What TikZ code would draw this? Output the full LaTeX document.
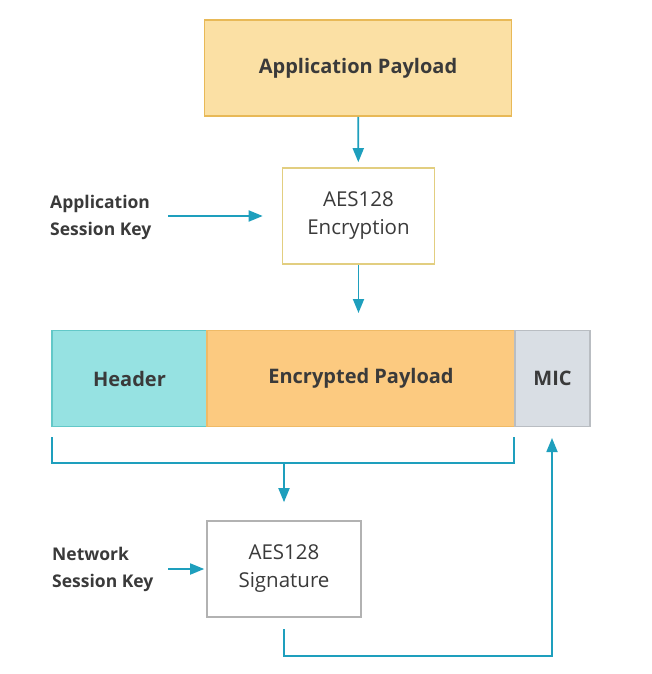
\documentclass[tikz,border=0pt]{standalone}
\usepackage{fontspec}
\setmainfont{Open Sans}
\usetikzlibrary{arrows.meta, positioning}

\definecolor{flowteal}{HTML}{1E9FBD}
\definecolor{textgray}{HTML}{3A3A3A}
\definecolor{appfill}{HTML}{FBE0A4}
\definecolor{appline}{HTML}{E8B957}
\definecolor{encline}{HTML}{E2CE80}
\definecolor{hdrfill}{HTML}{96E2E2}
\definecolor{hdrline}{HTML}{62C8C8}
\definecolor{plfill}{HTML}{FCCA80}
\definecolor{plline}{HTML}{EFBA66}
\definecolor{micfill}{HTML}{D9DEE4}
\definecolor{micline}{HTML}{B9BDC2}
\definecolor{sigline}{HTML}{B2B2B2}

\tikzset{
  block/.style={draw, line width=1.6pt, inner sep=0pt, text=textgray,
    font=\fontsize{20.5}{28}\selectfont, align=center},
  field/.style={block, minimum height=96pt, font=\bfseries\fontsize{20}{28}\selectfont},
  sidelabel/.style={anchor=west, align=left, text=textgray, inner sep=0pt,
    font=\bfseries\fontsize{17.5}{27}\selectfont},
  flow/.style={draw=flowteal, line width=1.8pt,
    -{Triangle[length=14pt, width=11pt]}},
  plain/.style={draw=flowteal, line width=1.8pt}
}

\begin{document}
\begin{tikzpicture}[x=1pt, y=-1pt]
  \useasboundingbox (0,0) rectangle (652,674);

  % top blocks
  \node[block, fill=appfill, draw=appline, minimum width=307pt, minimum height=96pt,
    font=\bfseries\fontsize{20}{28}\selectfont] (app) at (358,68) {Application Payload};
  \node[block, draw=encline, minimum width=152pt, minimum height=96pt] (enc) at (358.5,216)
    {AES128\\Encryption};
  \node[sidelabel] (appkey) at (50,217) {Application\\Session Key};

  % frame fields
  \node[field, fill=hdrfill, draw=hdrline, minimum width=155pt] (hdr) at (129.5,378.5) {Header};
  \node[field, fill=plfill, draw=plline, minimum width=308pt] (pl) at (361,378.5) {Encrypted Payload};
  \node[field, fill=micfill, draw=micline, minimum width=75pt] (mic) at (552.5,378.5) {MIC};

  % signature
  \node[block, draw=sigline, minimum width=154pt, minimum height=96pt] (sig) at (284,569)
    {AES128\\Signature};
  \node[sidelabel] (netkey) at (52,569) {Network\\Session Key};

  % bracket and loop back
  \coordinate (appkeyout) at (168,216);
  \coordinate (netkeyout) at (168,569);
  \coordinate (encout) at (358.5,313);
  \coordinate (brl) at (52,437);
  \coordinate (brr) at (514,437);
  \coordinate (brm) at (284,463);
  \coordinate (sigout) at (284,629);
  \coordinate (micin) at (552,438);

  \draw[flow, shorten >=5pt] (app) -- (enc);
  \draw[flow, shorten >=19pt] (appkeyout) -- (enc.west);
  \draw[flow] (enc) -- (encout);
  \draw[plain] (brl) |- (brm) -| (brr);
  \draw[flow, shorten >=18pt] (brm) -- (sig.north);
  \draw[flow, shorten >=2pt] (netkeyout) -- (sig.west);
  \draw[flow] (sigout) |- (552,656) -- (micin);
\end{tikzpicture}
\end{document}
